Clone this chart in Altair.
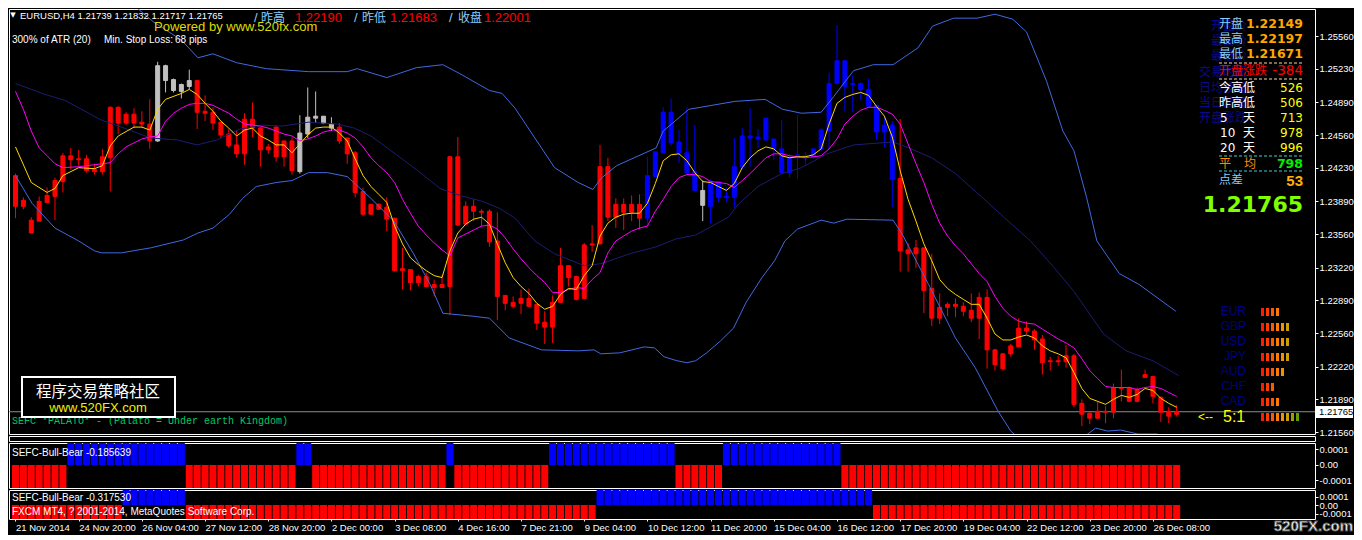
import json
import altair as alt
import pandas as pd

# ---------------- data ----------------
N = 148  # H4 bars, index 0 = 21 Nov 2014

open_ = [1.2415,1.2384,1.2370,1.2369,1.2388,1.2394,1.2409,1.2435,1.2431,1.2432,
 1.2419,1.2419,1.2433,1.2484,1.2468,1.2477,1.2469,1.2467,1.2450,1.2526,
 1.2512,1.2500,1.2505,1.2511,1.2480,1.2479,1.2469,1.2457,1.2446,1.2437,
 1.2472,1.2463,1.2441,1.2434,1.2450,1.2420,1.2419,1.2457,1.2473,1.2475,
 1.2467,1.2464,1.2453,1.2438,1.2399,1.2376,1.2386,1.2383,1.2372,1.2319,
 1.2320,1.2307,1.2313,1.2305,1.2302,1.2303,1.2434,1.2366,1.2384,1.2379,
 1.2379,1.2349,1.2294,1.2287,1.2286,1.2291,1.2285,1.2267,1.2262,1.2287,
 1.2324,1.2313,1.2291,1.2345,1.2346,1.2424,1.2373,1.2386,1.2378,1.2386,
 1.2372,1.2414,1.2438,1.2479,1.2449,1.2438,1.2419,1.2400,1.2384,1.2409,
 1.2393,1.2393,1.2424,1.2455,1.2452,1.2451,1.2452,1.2442,1.2418,1.2433,
 1.2435,1.2434,1.2442,1.2460,1.2508,1.2531,1.2507,1.2508,1.2502,1.2486,
 1.2459,1.2466,1.2412,1.2340,1.2336,1.2342,1.2301,1.2271,1.2282,1.2285,
 1.2283,1.2279,1.2271,1.2292,1.2239,1.2220,1.2235,1.2242,1.2261,1.2258,
 1.2250,1.2227,1.2228,1.2227,1.2233,1.2185,1.2175,1.2170,1.2177,1.2176,
 1.2201,1.2201,1.2187,1.2211,1.2212,1.2191,1.2177,1.21739]

high = [1.2417,1.2393,1.2373,1.2394,1.2403,1.2413,1.2438,1.2443,1.2441,1.2436,
 1.2427,1.2442,1.2485,1.2485,1.2479,1.2483,1.2480,1.2492,1.2530,1.2527,
 1.2513,1.2508,1.2522,1.2511,1.2496,1.2484,1.2469,1.2462,1.2461,1.2478,
 1.2489,1.2464,1.2447,1.2465,1.2450,1.2453,1.2476,1.2504,1.2500,1.2475,
 1.2474,1.2468,1.2453,1.2440,1.2403,1.2386,1.2387,1.2393,1.2372,1.2342,
 1.2320,1.2315,1.2317,1.2310,1.2315,1.2435,1.2454,1.2389,1.2391,1.2381,
 1.2381,1.2378,1.2294,1.2293,1.2300,1.2301,1.2285,1.2278,1.2294,1.2342,
 1.2324,1.2314,1.2347,1.2365,1.2446,1.2433,1.2392,1.2392,1.2395,1.2396,
 1.2434,1.2439,1.2484,1.2493,1.2461,1.2484,1.2466,1.2410,1.2411,1.2409,
 1.2403,1.2453,1.2463,1.2483,1.2462,1.2473,1.2452,1.2471,1.2437,1.2476,
 1.2439,1.2442,1.2463,1.2519,1.2567,1.2531,1.2516,1.2509,1.2513,1.2486,
 1.2475,1.2470,1.2472,1.2347,1.2350,1.2342,1.2336,1.2296,1.2287,1.2291,
 1.2287,1.2296,1.2297,1.2300,1.2240,1.2235,1.2245,1.2271,1.2268,1.2260,
 1.2254,1.2232,1.2233,1.2244,1.2235,1.2189,1.2176,1.2187,1.2182,1.2205,
 1.2219,1.2202,1.2201,1.2219,1.2213,1.2192,1.2181,1.21832]

low = [1.2372,1.2381,1.2357,1.2369,1.2388,1.2370,1.2398,1.2421,1.2425,1.2418,
 1.2416,1.2416,1.2399,1.2457,1.2466,1.2463,1.2463,1.2442,1.2449,1.2499,
 1.2499,1.2493,1.2502,1.2462,1.2470,1.2461,1.2453,1.2443,1.2433,1.2426,
 1.2454,1.2424,1.2437,1.2429,1.2424,1.2416,1.2417,1.2453,1.2468,1.2467,
 1.2460,1.2447,1.2427,1.2393,1.2374,1.2376,1.2381,1.2359,1.2318,1.2300,
 1.2299,1.2303,1.2302,1.2293,1.2302,1.2274,1.2365,1.2366,1.2369,1.2364,
 1.2343,1.2269,1.2279,1.2281,1.2275,1.2283,1.2259,1.2245,1.2246,1.2287,
 1.2303,1.2289,1.2291,1.2338,1.2346,1.2369,1.2362,1.2360,1.2369,1.2361,
 1.2365,1.2414,1.2438,1.2445,1.2428,1.2416,1.2400,1.2369,1.2367,1.2388,
 1.2388,1.2382,1.2421,1.2424,1.2443,1.2450,1.2431,1.2417,1.2413,1.2412,
 1.2426,1.2433,1.2439,1.2442,1.2507,1.2480,1.2479,1.2491,1.2484,1.2451,
 1.2444,1.2383,1.2318,1.2318,1.2322,1.2276,1.2263,1.2265,1.2273,1.2272,
 1.2273,1.2267,1.2250,1.2220,1.2218,1.2218,1.2232,1.2242,1.2255,1.2239,
 1.2214,1.2218,1.2223,1.2221,1.2181,1.2162,1.2164,1.2169,1.2165,1.2170,
 1.2187,1.2186,1.2186,1.2211,1.2185,1.2166,1.2165,1.21717]

close = [1.2384,1.2390,1.2357,1.2389,1.2395,1.2410,1.2435,1.2431,1.2432,1.2420,
 1.2421,1.2434,1.2484,1.2468,1.2477,1.2468,1.2467,1.2450,1.2526,1.2511,
 1.2501,1.2507,1.2511,1.2479,1.2478,1.2468,1.2456,1.2445,1.2437,1.2472,
 1.2463,1.2441,1.2444,1.2464,1.2434,1.2450,1.2458,1.2474,1.2475,1.2468,
 1.2463,1.2450,1.2437,1.2398,1.2376,1.2386,1.2381,1.2371,1.2319,1.2321,
 1.2307,1.2313,1.2303,1.2302,1.2305,1.2434,1.2365,1.2384,1.2379,1.2378,
 1.2348,1.2293,1.2286,1.2283,1.2291,1.2283,1.2266,1.2262,1.2287,1.2324,
 1.2312,1.2290,1.2345,1.2346,1.2424,1.2373,1.2386,1.2378,1.2386,1.2372,
 1.2415,1.2439,1.2479,1.2448,1.2438,1.2418,1.2400,1.2385,1.2409,1.2393,
 1.2394,1.2424,1.2455,1.2453,1.2454,1.2473,1.2442,1.2418,1.2433,1.2436,
 1.2433,1.2442,1.2461,1.2508,1.2531,1.2505,1.2508,1.2502,1.2485,1.2459,
 1.2466,1.2411,1.2339,1.2336,1.2342,1.2299,1.2271,1.2282,1.2285,1.2283,
 1.2278,1.2271,1.2292,1.2239,1.2224,1.2235,1.2243,1.2261,1.2258,1.2249,
 1.2226,1.2228,1.2227,1.2233,1.2184,1.2174,1.2170,1.2177,1.2176,1.2201,
 1.2200,1.2187,1.2199,1.2214,1.2192,1.2176,1.2172,1.21765]

# candle colour state: R red, G grey, B blue (runs of bars)
candle_runs = [("R", 18), ("G", 5), ("R", 13), ("G", 5), ("R", 39), ("B", 7), ("G", 1), ("B", 24), ("R", 36)]

yellow_bar = [0, 2, 4, 5, 6, 8, 10, 11, 12, 13, 15, 16, 17, 18, 19] + list(range(21, 148))
yellow_val = [1.2444,1.2408,1.2398,1.2402,1.2415,1.2423,1.2422,1.2425,1.2445,1.2455,1.2464,1.2464,1.2461,1.2482,1.2492,
 1.2498,1.2502,1.2497,1.2488,1.2480,1.2470,1.2463,1.2455,1.2461,1.2463,
 1.2455,1.2451,1.2446,1.2446,1.2438,1.2447,1.2456,1.2463,1.2464,1.2464,
 1.2458,1.2450,1.2432,1.2415,1.2404,1.2396,1.2388,1.2364,1.2346,1.2332,
 1.2325,1.2319,1.2314,1.2312,1.2339,1.2357,1.2366,1.2371,1.2373,1.2366,
 1.2346,1.2327,1.2312,1.2303,1.2296,1.2286,1.2280,1.2283,1.2295,1.2301,
 1.2300,1.2314,1.2324,1.2354,1.2367,1.2373,1.2376,1.2377,1.2377,1.2387,
 1.2407,1.2430,1.2436,1.2437,1.2430,1.2418,1.2409,1.2408,1.2404,1.2400,
 1.2407,1.2423,1.2433,1.2440,1.2444,1.2442,1.2435,1.2433,1.2434,1.2434,
 1.2436,1.2442,1.2467,1.2488,1.2494,1.2497,1.2499,1.2496,1.2485,1.2475,
 1.2454,1.2420,1.2391,1.2369,1.2346,1.2329,1.2310,1.2301,1.2295,1.2290,
 1.2285,1.2285,1.2271,1.2255,1.2249,1.2249,1.2252,1.2254,1.2251,1.2243,
 1.2238,1.2235,1.2231,1.2216,1.2200,1.2190,1.2187,1.2184,1.2189,1.2193,
 1.2191,1.2194,1.2200,1.2198,1.2190,1.2185,1.2181]

magenta_bar = [0, 1, 2, 3, 4, 5, 6, 8, 10, 12, 13, 14] + list(range(16, 148))
magenta_val = [1.2500,1.2482,1.2460,1.2443,1.2435,1.2427,1.2423,1.2424,1.2426,1.2428,1.2437,1.2444,
 1.2452,1.2454,1.2455,1.2470,1.2478,
 1.2483,1.2487,1.2488,1.2488,1.2486,1.2482,1.2478,1.2472,1.2467,1.2466,
 1.2465,1.2463,1.2460,1.2457,1.2455,1.2450,1.2452,1.2455,1.2459,1.2461,
 1.2461,1.2458,1.2453,1.2444,1.2433,1.2425,1.2418,1.2408,1.2391,1.2377,
 1.2364,1.2355,1.2347,1.2340,1.2334,1.2352,1.2356,1.2360,1.2364,1.2365,
 1.2361,1.2352,1.2341,1.2331,1.2322,1.2314,1.2307,1.2297,1.2297,1.2300,
 1.2302,1.2301,1.2310,1.2317,1.2337,1.2349,1.2354,1.2359,1.2362,1.2364,
 1.2379,1.2391,1.2404,1.2413,1.2416,1.2416,1.2414,1.2409,1.2408,1.2407,
 1.2403,1.2410,1.2417,1.2425,1.2433,1.2437,1.2437,1.2435,1.2434,1.2433,
 1.2434,1.2435,1.2442,1.2452,1.2467,1.2475,1.2481,1.2484,1.2484,1.2481,
 1.2477,1.2467,1.2447,1.2427,1.2408,1.2386,1.2367,1.2354,1.2344,1.2336,
 1.2326,1.2316,1.2308,1.2293,1.2281,1.2273,1.2268,1.2266,1.2265,1.2260,
 1.2255,1.2250,1.2246,1.2241,1.2230,1.2218,1.2210,1.2202,1.2201,1.2201,
 1.2201,1.2199,1.2201,1.2202,1.2200,1.2196,1.2192]

upper_bar = [0,12.1,14.4,17.5,21,23.1,25,28,31.75,37.1,42,43.25,47,50.75,54.1,56.25,60,61.6,63.25,65.75,
 68.25,71.25,73.1,74.1,76.1,81.1,82,85.25,91.1,94.9,97.1,99.5,102,103.6,106.1,108.6,111.1,114.25,116.1,118.75,
 121.75,124,126.25,128,130.5,132.6,134,135.6,136.9,139.75,142.25,146.9]
upper_val = [1.2632,1.2596,1.2591,1.2570,1.2552,1.2534,1.2538,1.2529,1.2523,1.2520,1.2520,1.2523,1.2514,1.2524,1.2527,1.2518,1.2501,1.2498,1.2483,1.2453,
 1.2423,1.2408,1.2401,1.2412,1.2425,1.2443,1.2460,1.2482,1.2490,1.2492,1.2482,1.2478,1.2479,1.2495,1.2521,1.2527,1.2527,1.2544,1.2566,1.2574,
 1.2574,1.2578,1.2573,1.2560,1.2511,1.2460,1.2440,1.2393,1.2349,1.2316,1.2305,1.2278]

mid_bar = [0,3.75,6.25,10.9,13.75,17.1,20.5,23,25.5,28.4,31.25,33.75,37.1,40.75,42.9,45,48.25,51.25,53.75,56.25,
 59.1,61.25,63.25,65.75,68.25,72,74.1,77.75,81.1,83.6,86.1,90.25,91.5,94,97,99.5,102.75,106.1,111.1,113.1,
 116,119,122.25,125.25,128.5,131.5,134,136,137.75,140.6,144,147.25]
mid_val = [1.2508,1.2497,1.2491,1.2471,1.2463,1.2453,1.2451,1.2446,1.2451,1.2462,1.2466,1.2465,1.2469,1.2467,1.2463,1.2455,1.2436,1.2418,1.2402,1.2395,
 1.2389,1.2382,1.2372,1.2349,1.2336,1.2324,1.2326,1.2336,1.2343,1.2351,1.2355,1.2373,1.2386,1.2404,1.2417,1.2423,1.2437,1.2446,1.2449,1.2443,
 1.2433,1.2417,1.2394,1.2372,1.2349,1.2322,1.2298,1.2275,1.2255,1.2238,1.2228,1.2213]

lower_bar = [0,2.1,5,8,10,10.9,13.4,17.1,21.25,23.1,25,27.1,28.75,30.5,33,35,37.1,39.5,42,45,
 47.9,50.4,52.5,54.1,57.9,60,62.5,66.6,71.25,73.25,74.1,76.5,79.6,80.9,82.1,83.75,85,86.1,87.5,89.25,
 90.9,92.5,94.5,96.1,97.4,99,102,103.6,105.25,111.1,112.25,115.6,119,121.5,124.4,126,129.6,133.4,135.4,136.75,
 138.25,139.9,142.1,144.5,147.1]
lower_val = [1.2415,1.2387,1.2362,1.2349,1.2339,1.2337,1.2337,1.2342,1.2350,1.2357,1.2362,1.2376,1.2392,1.2404,1.2408,1.2410,1.2418,1.2418,1.2414,1.2392,
 1.2369,1.2336,1.2305,1.2276,1.2273,1.2271,1.2251,1.2239,1.2238,1.2239,1.2235,1.2236,1.2242,1.2241,1.2232,1.2228,1.2226,1.2228,1.2236,1.2248,
 1.2261,1.2287,1.2312,1.2329,1.2349,1.2361,1.2370,1.2367,1.2371,1.2370,1.2356,1.2305,1.2251,1.2221,1.2177,1.2157,1.2132,1.2139,1.2152,1.2160,
 1.2157,1.2158,1.2154,1.2154,1.2147]

# SEFC-Bull-Bear histograms: +1 bull (blue) / -1 bear (red), runs of bars
bull_bear_1_runs = [(-1, 7), (1, 15), (-1, 14), (1, 2), (-1, 17), (1, 1), (-1, 12), (1, 16), (-1, 6), (1, 15), (-1, 43)]
bull_bear_2_runs = [(-1, 14), (1, 8), (-1, 52), (1, 35), (-1, 39)]

tick_labels = ["21 Nov 2014", "24 Nov 20:00", "26 Nov 04:00", "27 Nov 12:00", "28 Nov 20:00",
               "2 Dec 00:00", "3 Dec 08:00", "4 Dec 16:00", "7 Dec 21:00", "9 Dec 04:00",
               "10 Dec 12:00", "11 Dec 20:00", "15 Dec 04:00", "16 Dec 12:00", "17 Dec 20:00",
               "19 Dec 04:00", "22 Dec 12:00", "23 Dec 20:00", "26 Dec 08:00"]
price_ticks = [1.2556, 1.2523, 1.2489, 1.2456, 1.2423, 1.2389, 1.2356,
               1.2322, 1.2289, 1.2256, 1.2222, 1.2189, 1.2156]
last_price = 1.21765

currencies = ["EUR", "GBP", "USD", "JPY", "AUD", "CHF", "CAD"]
strength = [4, 6, 6, 6, 5, 3, 4, 8]

# ---------------- layout (page has an 8px margin) ----------------
W = 1306            # plot width of every panel
HM = 425            # main panel height (page y 8 .. 433)
ORG_MAIN = (8, 8)
ORG_P2 = (8, 442)
ORG_P3 = (8, 489)

# ---------------- helpers ----------------
def expand(runs):
    out = []
    for v, n in runs:
        out.extend([v] * n)
    return out

KIND_COLOR = {"R": "#ff0000", "B": "#0000ff", "G": "#c0c0c0"}
XS = alt.Scale(domain=[-0.18844, 163.882], nice=False, zero=False)
YS = alt.Scale(domain=[1.215402, 1.258327], nice=False, zero=False)
YAX = alt.Axis(orient="right", values=price_ticks, format=".5f", tickSize=3, labelPadding=1,
               title=None, labelOverlap=False, labelFlush=False, domain=False, grid=False,
               labelColor="#ffffff", tickColor="#ffffff")

def X(f):
    return alt.X(f"{f}:Q", scale=XS, axis=None, title=None)

def Y(f):
    return alt.Y(f"{f}:Q", scale=YS, axis=YAX, title=None)

one = pd.DataFrame({"k": [0]})

def txt(s, x, y, color="#ffffff", size=10, font="Liberation Sans", weight="normal",
        align="left", org=ORG_MAIN, **kw):
    return alt.Chart(one).mark_text(text=s, align=align, baseline="middle", font=font,
                                    fontSize=size, fontWeight=weight, color=color, **kw
                                    ).encode(x=alt.value(x - org[0]), y=alt.value(y - org[1]))

def hdash(x1, x2, y, color, org=ORG_MAIN):
    return alt.Chart(one).mark_rule(color=color, strokeWidth=1, strokeDash=[3, 2]).encode(
        x=alt.value(x1 - org[0]), x2=alt.value(x2 - org[0]), y=alt.value(y - org[1]))

def series(bars, vals, color):
    d = pd.DataFrame({"bar": bars, "p": vals})
    return alt.Chart(d).mark_line(color=color, strokeWidth=1, clip=True).encode(x=X("bar"), y=Y("p"))

CJK = "Noto Sans CJK SC"
SKY = "#87cefa"
NAVY = "#0a0a8c"

# ---------------- main price panel ----------------
cdf = pd.DataFrame({"bar": list(range(N)), "open": open_, "high": high, "low": low,
                    "close": close, "col": [KIND_COLOR[k] for k in expand(candle_runs)]})

price_line = alt.Chart(pd.DataFrame({"p": [last_price]})).mark_rule(
    color="#8c8c8c", strokeWidth=1).encode(y=Y("p"))
wicks = alt.Chart(cdf).mark_rule(strokeWidth=1).encode(
    x=X("bar"), y=Y("low"), y2="high", color=alt.Color("col:N", scale=None))
bodies = alt.Chart(cdf).mark_bar(size=4, strokeWidth=1).encode(
    x=X("bar"), y=Y("open"), y2="close",
    color=alt.Color("col:N", scale=None), stroke=alt.Stroke("col:N", scale=None))

bands = [series(upper_bar, upper_val, "#4169e1"),
         series(mid_bar, mid_val, "#1c1c72"),
         series(lower_bar, lower_val, "#4169e1")]
mas = [series(magenta_bar, magenta_val, "#ff00ff"),
       series(yellow_bar, yellow_val, "#ffd700")]

block_palette = ["#ff1a00", "#ff3a00", "#ff5a00", "#ff7a00", "#f29200", "#c9a000", "#93a010", "#66a000"]
bdf = pd.DataFrame([{"r": r, "k": k} for r, n in enumerate(strength) for k in range(n)])
blocks = alt.Chart(bdf).transform_calculate(
    x1="1252 + 5*datum.k", x2="1255 + 5*datum.k",
    y1="299 + 15*datum.r", y2="307 + 15*datum.r",
    c=json.dumps(block_palette) + "[datum.k]",
).mark_rect().encode(
    x=alt.X("x1:Q", scale=None, axis=None), x2="x2:Q",
    y=alt.Y("y1:Q", scale=None, axis=None), y2="y2:Q",
    color=alt.Color("c:N", scale=None))

HY = 17  # header row centre (page y)
texts = [
    txt("\u25bc", 12, 14, size=7, font="DejaVu Sans", align="center"),
    txt("EURUSD,H4  1.21739 1.21832 1.21717 1.21765", 19, 14.5, size=9.5),
    txt("Powered by www.520fx.com", 153, 26, color="#dcdc00", size=13),
    txt("/", 253, HY, color=SKY, size=13),
    txt("昨高", 260, HY, color=SKY, size=12, font=CJK),
    txt("1.22190", 294, HY, color="#ff0000", size=13),
    txt("/", 353, HY, color=SKY, size=13),
    txt("昨低", 361, HY, color=SKY, size=12, font=CJK),
    txt("1.21683", 389, HY, color="#ff0000", size=13),
    txt("/", 448, HY, color=SKY, size=13),
    txt("收盘", 457, HY, color=SKY, size=12, font=CJK),
    txt("1.22001", 483, HY, color="#ff0000", size=13),
    txt("300% of ATR (20)", 11, 39, size=10),
    txt("Min. Stop Loss:", 103, 39, size=10),
    txt("68 pips", 174, 39, size=10),
    # navy background labels of the info panel
    txt("开盘价", 1210, 25, color=NAVY, size=12, font=CJK),
    txt("最高价", 1210, 40, color=NAVY, size=12, font=CJK),
    txt("最低价", 1210, 55, color=NAVY, size=12, font=CJK),
    txt("交易时间", 1198, 71, color=NAVY, size=12, font=CJK),
    txt("日均波幅", 1198, 87, color=NAVY, size=12, font=CJK),
    txt("当日波幅", 1198, 102, color=NAVY, size=12, font=CJK),
    txt("开盘涨跌", 1198, 117, color=NAVY, size=12, font=CJK),
    # info panel
    txt("开盘", 1218, 23, color=SKY, size=12, font=CJK),
    txt("1.22149", 1302, 23, color="#ffa500", size=12.5, font="DejaVu Sans", weight="bold", align="right"),
    txt("最高", 1218, 38, color=SKY, size=12, font=CJK),
    txt("1.22197", 1302, 38, color="#ffa500", size=12.5, font="DejaVu Sans", weight="bold", align="right"),
    txt("最低", 1218, 53, color=SKY, size=12, font=CJK),
    txt("1.21671", 1302, 53, color="#ffa500", size=12.5, font="DejaVu Sans", weight="bold", align="right"),
    hdash(1218, 1302, 62, "#f5d8a8"),
    txt("开盘涨跌", 1218, 70, color="#ff0000", size=12, font=CJK),
    txt("-384", 1302, 70, color="#ff0000", size=13.5, font="DejaVu Sans", align="right"),
    hdash(1218, 1302, 78, "#f5d8a8"),
    txt("今高低", 1218, 87, size=12, font=CJK),
    txt("526", 1302, 87, color="#ffff00", size=12, font="DejaVu Sans", align="right"),
    txt("昨高低", 1218, 102, size=12, font=CJK),
    txt("506", 1302, 102, color="#ffff00", size=12, font="DejaVu Sans", align="right"),
    txt("5", 1219, 117, size=12, font="DejaVu Sans"),
    txt("天", 1242, 117, size=12, font=CJK),
    txt("713", 1302, 117, color="#ffff00", size=12, font="DejaVu Sans", align="right"),
    txt("10", 1219, 132, size=12, font="DejaVu Sans"),
    txt("天", 1242, 132, size=12, font=CJK),
    txt("978", 1302, 132, color="#ffff00", size=12, font="DejaVu Sans", align="right"),
    txt("20", 1219, 147, size=12, font="DejaVu Sans"),
    txt("天", 1242, 147, size=12, font=CJK),
    txt("996", 1302, 147, color="#ffff00", size=12, font="DejaVu Sans", align="right"),
    hdash(1218, 1302, 155, "#40d0d0"),
    txt("平", 1218, 163, color="#ff8c00", size=12, font=CJK),
    txt("均", 1243, 163, color="#ff8c00", size=12, font=CJK),
    txt("798", 1302, 163, color="#00ee00", size=12.5, font="DejaVu Sans", weight="bold", align="right"),
    hdash(1218, 1302, 170, "#40d0d0"),
    txt("点差", 1218, 179, color=SKY, size=12, font=CJK),
    txt("53", 1302, 180, color="#ffb000", size=15, weight="bold", align="right"),
    txt("1.21765", 1302, 204, color="#80ff00", size=22, font="DejaVu Sans", weight="bold", align="right"),
]
texts += [txt(c, 1245, 310 + 15 * i, color="#000080", size=12, align="right") for i, c in enumerate(currencies)]
texts += [
    txt("<--", 1197, 416, color="#ffff00", size=12),
    txt("5:1", 1222, 416, color="#ffff00", size=16),
    txt("SEFC *PALATO* - (Palato = Under earth Kingdom)", 11, 420, color="#00c864", size=10, font="Liberation Mono"),
]
box = alt.Chart(one).mark_rect(fill="#000000", stroke="#ffffff", strokeWidth=2).encode(
    x=alt.value(21 - 8), x2=alt.value(174 - 8), y=alt.value(376 - 8), y2=alt.value(416 - 8))
box_texts = [
    txt("程序交易策略社区", 97, 391, size=15.5, font=CJK, align="center"),
    txt("www.520FX.com", 97, 407, color="#f0f000", size=13, align="center"),
]
tag = alt.Chart(one).mark_rect(fill="#ffffff").encode(
    x=alt.value(1315 - 8), x2=alt.value(1352 - 8), y=alt.value(405 - 8), y2=alt.value(417 - 8))
tag_text = txt("1.21765", 1318, 411, color="#000000", size=9.5)

main = alt.layer(price_line, wicks, bodies, *bands, *mas, blocks, *texts, box, *box_texts,
                 tag, tag_text).properties(width=W, height=HM)

# ---------------- empty separator panel ----------------
thin = alt.Chart(one).mark_text(text="").encode(
    x=alt.value(10), y=alt.value(2)).properties(width=W, height=5)

# ---------------- bull/bear panels ----------------
def small_axis():
    return alt.Axis(orient="right", values=[0.0001, 0, -0.0001],
                    labelExpr="datum.value > 0 ? '0.0001' : (datum.value < 0 ? '-0.0001' : '0.00')",
                    tickSize=3, labelPadding=1, title=None, labelOverlap=False, labelFlush=False,
                    domain=False, grid=False, labelColor="#ffffff", tickColor="#ffffff")

def bb_chart(runs, dom, xenc):
    vals = expand(runs)
    d = pd.DataFrame({"bar": list(range(N)), "v": vals,
                      "col": ["#0000ff" if v > 0 else "#ff0000" for v in vals]})
    return alt.Chart(d).mark_bar(size=7, clip=True).encode(
        x=xenc,
        y=alt.Y("v:Q", scale=alt.Scale(domain=dom, nice=False, zero=False), axis=small_axis(), title=None),
        y2=alt.datum(0),
        color=alt.Color("col:N", scale=None))

p2 = alt.layer(
    bb_chart(bull_bear_1_runs, [-0.0001484, 0.0001419], X("bar")),
    txt("SEFC-Bull-Bear -0.185639", 11, 452, size=10, org=ORG_P2),
).properties(width=W, height=45)

XAX = alt.Axis(values=list(range(0, 145, 8)),
               labelExpr=json.dumps(tick_labels) + "[round(datum.value / 8)]",
               labelAlign="left", labelBaseline="top", tickSize=2, labelPadding=1,
               labelOverlap=False, labelFlush=False, title=None, domain=False, grid=False,
               labelColor="#ffffff", tickColor="#ffffff")
p3 = alt.layer(
    bb_chart(bull_bear_2_runs, [-0.0001647, 0.0001765],
             alt.X("bar:Q", scale=XS, axis=XAX, title=None)),
    txt("SEFC-Bull-Bear -0.317530", 11, 497, size=10, org=ORG_P3),
    txt("FXCM MT4, ? 2001-2014, MetaQuotes Software Corp.", 11, 511, size=10, org=ORG_P3),
    txt("520FX.com", 1352, 525, size=15, weight="bold", align="right", org=ORG_P3,
        stroke="#505050", strokeWidth=0.8),
).properties(width=W, height=29)

chart = alt.vconcat(main, thin, p2, p3, spacing=2, bounds="flush").properties(
    padding=0,
    background="#000000",
    usermeta={"embedOptions": {"defaultStyle": "body{background:#000000}"}},
).configure(font="Liberation Sans").configure_view(
    stroke="#ffffff", strokeWidth=1
).configure_axis(
    labelColor="#ffffff", tickColor="#ffffff", labelFont="Liberation Sans", labelFontSize=9.5,
    tickWidth=1,
)

chart.save("out.html", embed_options={"renderer": "svg", "actions": False})
